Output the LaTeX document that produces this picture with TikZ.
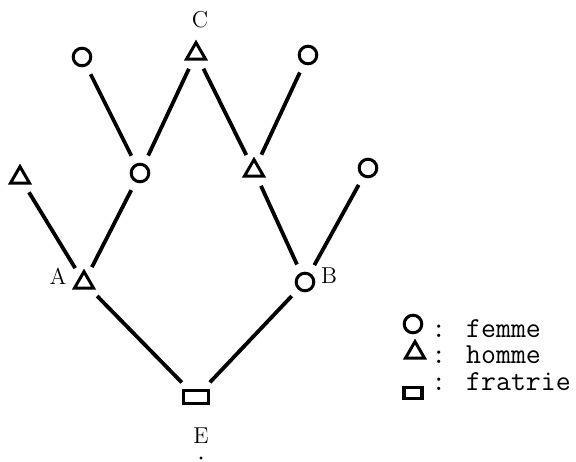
\documentclass[tikz,border=0pt]{standalone}
\usetikzlibrary{shapes.geometric}

\begin{document}
\begin{tikzpicture}[x=0.5pt, y=-0.5pt,
    femme/.style={draw, circle, line width=1.5pt, minimum size=8.8pt, inner sep=0pt},
    homme/.style={draw, regular polygon, regular polygon sides=3, line width=1.5pt,
      minimum size=11pt, inner sep=0pt},
    fratrie/.style={draw, rectangle, line width=1.7pt, minimum width=12.6pt,
      minimum height=6.4pt, inner sep=0pt},
    lien/.style={line width=1.9pt, shorten <=4.5pt, shorten >=4.5pt},
    lettre/.style={font=\fontsize{11.5}{13}\selectfont, inner sep=0pt},
    legende/.style={font=\ttfamily\fontsize{14.5}{16}\selectfont, inner sep=0pt, anchor=base west}]
  \useasboundingbox (0,0) rectangle (576,461);

  % genealogie
  \node[homme] (c) at (196,53.6) {};
  \node[femme] (gl) at (82,57) {};
  \node[femme] (gr) at (308,55) {};
  \node[homme] (ta) at (20,177.6) {};
  \node[femme] (m) at (140,173) {};
  \node[homme] (p) at (254,170.6) {};
  \node[femme] (fr) at (368,168) {};
  \node[homme] (a) at (84,282.6) {};
  \node[femme] (b) at (305,282) {};
  \node[fratrie] (e) at (196,397) {};

  \draw[lien] (gl) -- (m);
  \draw[lien] (m) -- (c);
  \draw[lien] (c) -- (p);
  \draw[lien] (gr) -- (p);
  \draw[lien] (ta) -- (a);
  \draw[lien] (m) -- (a);
  \draw[lien] (p) -- (b);
  \draw[lien] (fr) -- (b);
  \draw[lien] (a) -- (e);
  \draw[lien] (b) -- (e);

  \node[lettre] (lc) at (200,20) {C};
  \node[lettre] (la) at (58,276) {A};
  \node[lettre] (lb) at (329,276) {B};
  \node[lettre] (le) at (201,436) {E};
  \fill (201,458) circle (0.8pt);

  % legende
  \node[femme] (kf) at (413,324) {};
  \node[homme] (kh) at (415,352.6) {};
  \node[fratrie, minimum width=9pt, minimum height=5.6pt] (kr) at (413,393) {};
  \node[legende] (tf) at (431,337) {: femme};
  \node[legende] (th) at (431,363) {: homme};
  \node[legende] (tr) at (431,390) {: fratrie};
\end{tikzpicture}
\end{document}
